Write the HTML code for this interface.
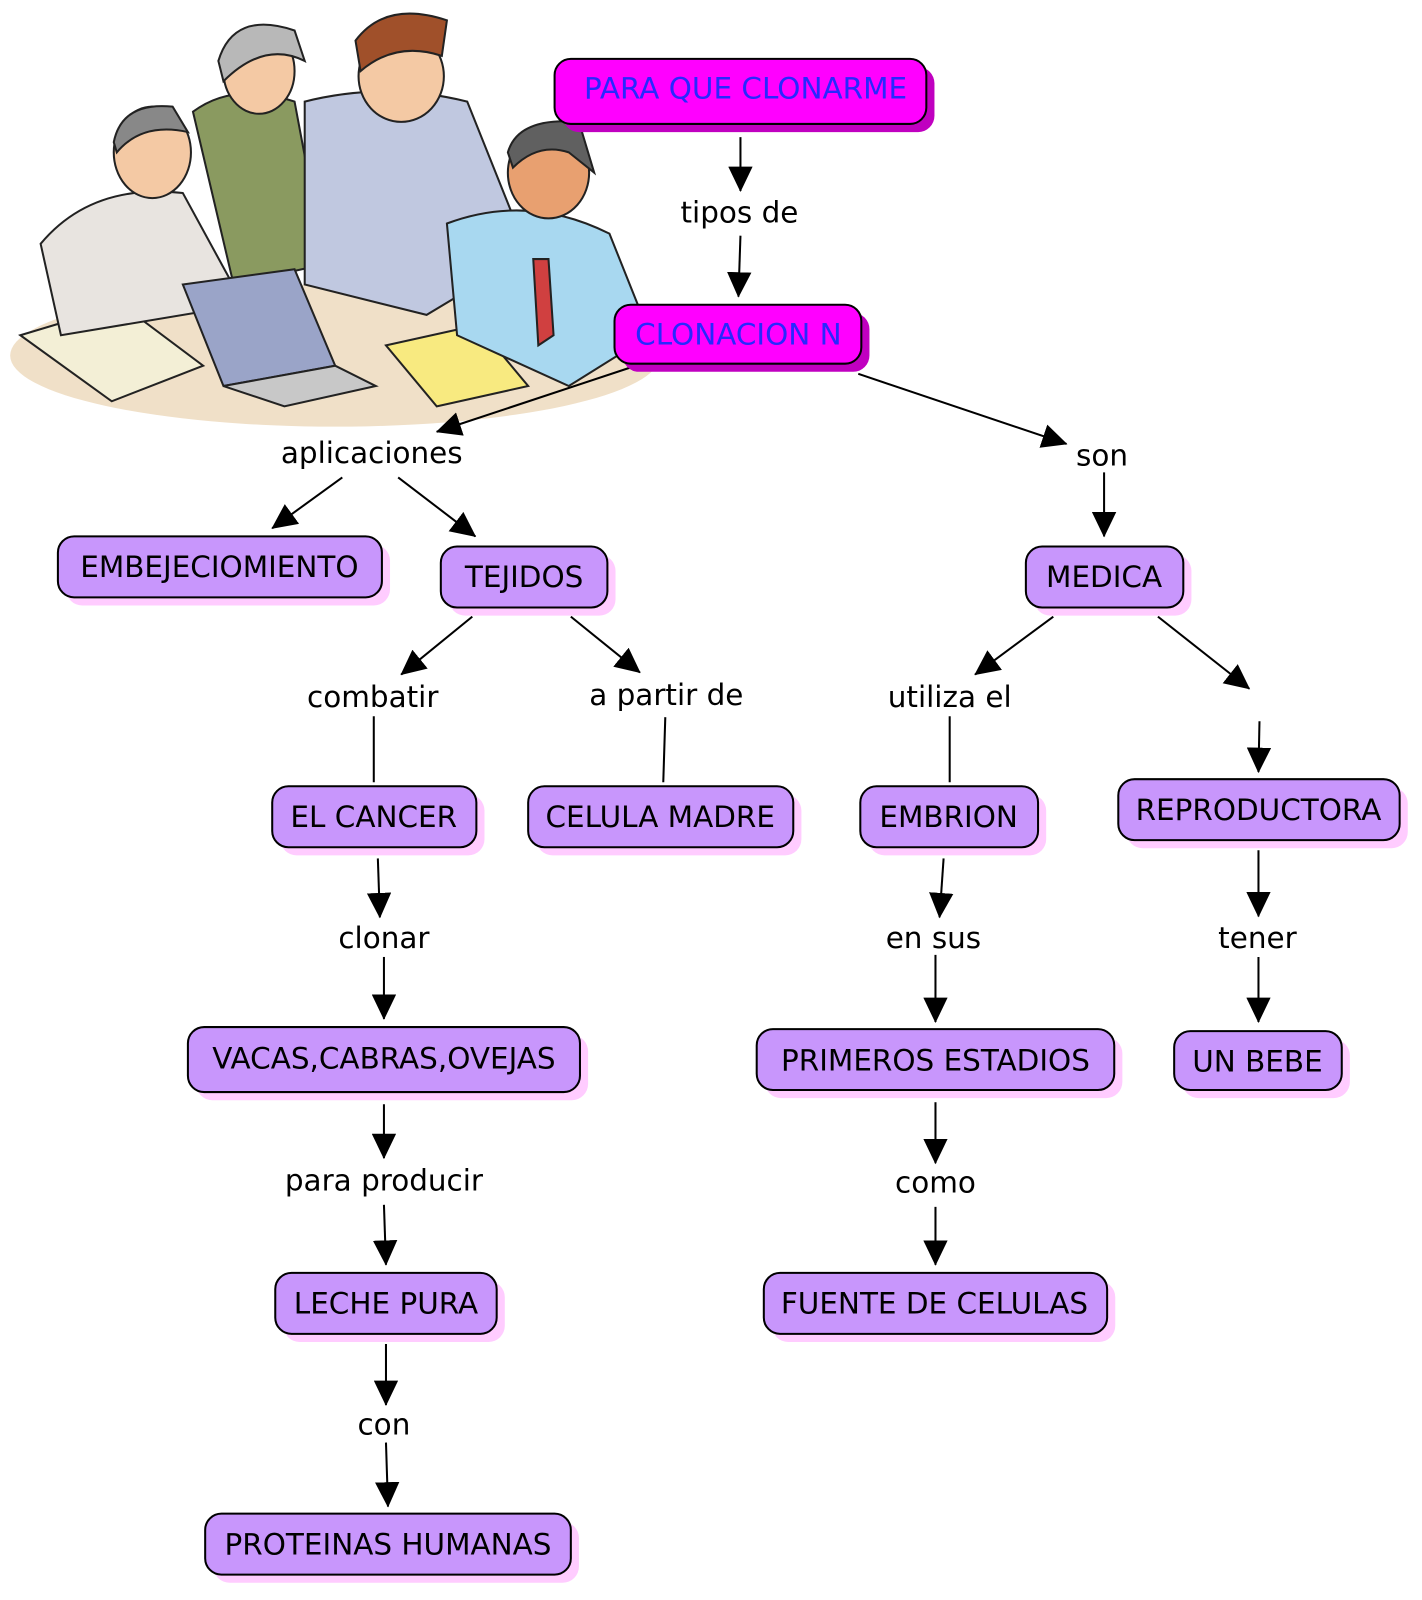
<!DOCTYPE html>
<html><head><meta charset="utf-8"><style>
html,body{margin:0;padding:0;background:#fff;}
svg{display:block;}
text{font-family:"DejaVu Sans","Liberation Sans",sans-serif;font-size:29px;}
</style></head><body>
<svg width="1422" height="1600" viewBox="0 0 1400 1575" preserveAspectRatio="none" xmlns="http://www.w3.org/2000/svg">
<defs>
<marker id="a" markerUnits="userSpaceOnUse" markerWidth="26" markerHeight="24" refX="24" refY="12" orient="auto">
<path d="M0,0 L25,12 L0,24 Z" fill="#000"/></marker>
</defs>
<g stroke="#222" stroke-width="2">
<ellipse cx="330" cy="350" rx="320" ry="70" fill="#f0e0c8" stroke="none"/>
<path d="M20,330 L120,300 L200,360 L110,395 Z" fill="#f3efd6"/>
<path d="M40,240 Q90,180 180,190 L240,300 L60,330 Z" fill="#e8e4e0"/>
<ellipse cx="150" cy="150" rx="38" ry="45" fill="#f4c9a4"/>
<path d="M112,140 Q120,100 170,105 L185,130 Q140,120 115,150 Z" fill="#888"/>
<path d="M190,110 Q230,80 290,100 L320,260 L230,280 Z" fill="#8a9a60"/>
<ellipse cx="255" cy="70" rx="35" ry="42" fill="#f4c9a4"/>
<path d="M215,60 Q230,10 290,30 L300,60 Q260,40 220,80 Z" fill="#b8b8b8"/>
<path d="M300,100 Q380,80 460,100 L520,250 L420,310 L300,280 Z" fill="#c0c8e0"/>
<ellipse cx="395" cy="75" rx="42" ry="45" fill="#f4c9a4"/>
<path d="M350,40 Q380,0 440,20 L435,55 Q390,40 355,70 Z" fill="#a0502a"/>
<path d="M180,280 L290,265 L330,360 L220,380 Z" fill="#9aa4c8"/>
<path d="M220,380 L330,360 L370,380 L280,400 Z" fill="#c8c8c8"/>
<path d="M380,340 L470,320 L520,380 L430,400 Z" fill="#f8ea80"/>
<path d="M440,220 Q520,190 600,230 L640,330 L560,380 L450,330 Z" fill="#a8d8f0"/>
<ellipse cx="540" cy="170" rx="40" ry="45" fill="#e8a070"/>
<path d="M500,150 Q510,115 570,120 L585,170 L560,150 Q530,140 505,165 Z" fill="#606060"/>
<path d="M525,255 L540,255 L545,330 L530,340 Z" fill="#d04040"/>
</g>
<g stroke="#000" stroke-width="2" fill="none">
<line x1="729" y1="135" x2="729" y2="188" marker-end="url(#a)"/>
<line x1="729" y1="232" x2="727" y2="292" marker-end="url(#a)"/>
<line x1="845" y1="368" x2="1050" y2="437" marker-end="url(#a)"/>
<line x1="620" y1="362" x2="430" y2="425" marker-end="url(#a)"/>
<line x1="337" y1="470" x2="268" y2="520" marker-end="url(#a)"/>
<line x1="392" y1="470" x2="468" y2="528" marker-end="url(#a)"/>
<line x1="1087" y1="465" x2="1087" y2="528" marker-end="url(#a)"/>
<line x1="465" y1="607" x2="395" y2="664" marker-end="url(#a)"/>
<line x1="562" y1="607" x2="630" y2="662" marker-end="url(#a)"/>
<line x1="368" y1="705" x2="368" y2="770"/>
<line x1="655" y1="706" x2="653" y2="770"/>
<line x1="1037" y1="607" x2="960" y2="664" marker-end="url(#a)"/>
<line x1="1140" y1="607" x2="1230" y2="678" marker-end="url(#a)"/>
<line x1="935" y1="705" x2="935" y2="770"/>
<line x1="1240" y1="710" x2="1239" y2="760" marker-end="url(#a)"/>
<line x1="372" y1="845" x2="374" y2="903" marker-end="url(#a)"/>
<line x1="378" y1="942" x2="378" y2="1003" marker-end="url(#a)"/>
<line x1="929" y1="845" x2="925" y2="903" marker-end="url(#a)"/>
<line x1="921" y1="940" x2="921" y2="1006" marker-end="url(#a)"/>
<line x1="1239" y1="837" x2="1239" y2="902" marker-end="url(#a)"/>
<line x1="1239" y1="942" x2="1239" y2="1006" marker-end="url(#a)"/>
<line x1="378" y1="1087" x2="378" y2="1140" marker-end="url(#a)"/>
<line x1="378" y1="1186" x2="380" y2="1245" marker-end="url(#a)"/>
<line x1="921" y1="1085" x2="921" y2="1145" marker-end="url(#a)"/>
<line x1="921" y1="1188" x2="921" y2="1245" marker-end="url(#a)"/>
<line x1="380" y1="1323" x2="380" y2="1383" marker-end="url(#a)"/>
<line x1="380" y1="1420" x2="382" y2="1483" marker-end="url(#a)"/>
</g>
<g stroke="#000" stroke-width="2">
<rect x="554" y="66" width="366" height="64" rx="16" fill="#c000c0" stroke="none"/>
<rect x="546" y="58" width="366" height="64" rx="16" fill="#ff00ff"/>
<rect x="613" y="308" width="243" height="58" rx="16" fill="#c000c0" stroke="none"/>
<rect x="605" y="300" width="243" height="58" rx="16" fill="#ff00ff"/>
</g>
<g fill="#2828ff" text-anchor="middle">
<text x="734" y="97">PARA QUE CLONARME</text>
<text x="727" y="339">CLONACION N</text>
</g>
<g stroke="#000" stroke-width="2">
<g fill="#ffccff" stroke="none">
<rect x="65" y="536" width="319" height="60" rx="16"/>
<rect x="442" y="546" width="164" height="60" rx="16"/>
<rect x="1018" y="546" width="155" height="60" rx="16"/>
<rect x="276" y="782" width="201" height="60" rx="16"/>
<rect x="528" y="782" width="261" height="60" rx="16"/>
<rect x="855" y="782" width="175" height="60" rx="16"/>
<rect x="1109" y="775" width="277" height="60" rx="16"/>
<rect x="193" y="1019" width="386" height="64" rx="16"/>
<rect x="753" y="1021" width="352" height="60" rx="16"/>
<rect x="1164" y="1023" width="165" height="58" rx="16"/>
<rect x="279" y="1261" width="218" height="60" rx="16"/>
<rect x="760" y="1261" width="338" height="60" rx="16"/>
<rect x="210" y="1498" width="360" height="60" rx="16"/>
</g>
<g fill="#c896fc">
<rect x="57" y="528" width="319" height="60" rx="16"/>
<rect x="434" y="538" width="164" height="60" rx="16"/>
<rect x="1010" y="538" width="155" height="60" rx="16"/>
<rect x="268" y="774" width="201" height="60" rx="16"/>
<rect x="520" y="774" width="261" height="60" rx="16"/>
<rect x="847" y="774" width="175" height="60" rx="16"/>
<rect x="1101" y="767" width="277" height="60" rx="16"/>
<rect x="185" y="1011" width="386" height="64" rx="16"/>
<rect x="745" y="1013" width="352" height="60" rx="16"/>
<rect x="1156" y="1015" width="165" height="58" rx="16"/>
<rect x="271" y="1253" width="218" height="60" rx="16"/>
<rect x="752" y="1253" width="338" height="60" rx="16"/>
<rect x="202" y="1490" width="360" height="60" rx="16"/>
</g>
</g>
<g fill="#000" text-anchor="middle">
<text x="216" y="568">EMBEJECIOMIENTO</text>
<text x="516" y="578">TEJIDOS</text>
<text x="1087" y="578">MEDICA</text>
<text x="368" y="814">EL CANCER</text>
<text x="650" y="814">CELULA MADRE</text>
<text x="934" y="814">EMBRION</text>
<text x="1239" y="807">REPRODUCTORA</text>
<text x="378" y="1052">VACAS,CABRAS,OVEJAS</text>
<text x="921" y="1054">PRIMEROS ESTADIOS</text>
<text x="1238" y="1055">UN BEBE</text>
<text x="380" y="1293">LECHE PURA</text>
<text x="920" y="1293">FUENTE DE CELULAS</text>
<text x="382" y="1530">PROTEINAS HUMANAS</text>
<text x="728" y="219">tipos de</text>
<text x="366" y="456">aplicaciones</text>
<text x="1085" y="458">son</text>
<text x="367" y="696">combatir</text>
<text x="656" y="694">a partir de</text>
<text x="935" y="696">utiliza el</text>
<text x="378" y="933">clonar</text>
<text x="919" y="933">en sus</text>
<text x="1238" y="933">tener</text>
<text x="378" y="1172">para producir</text>
<text x="921" y="1174">como</text>
<text x="378" y="1412">con</text>
</g>
</svg>
</body></html>
